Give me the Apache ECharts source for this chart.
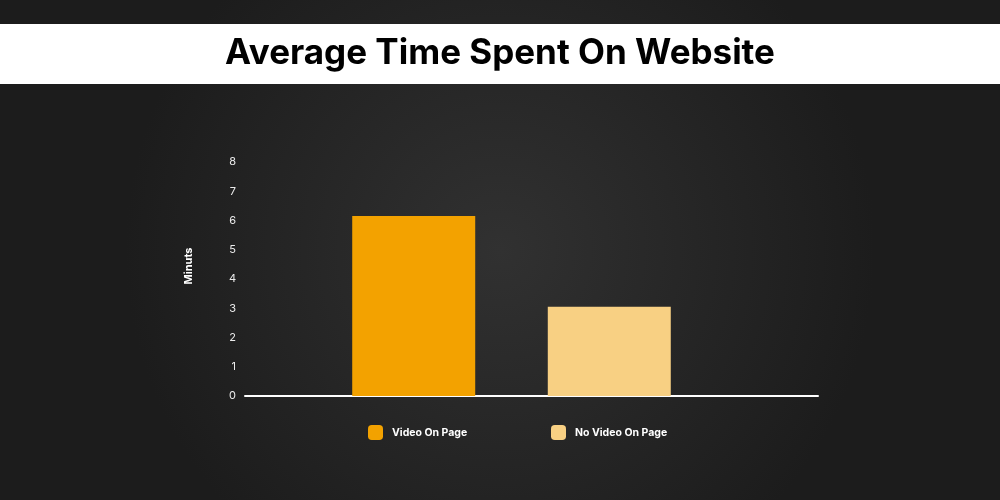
<!DOCTYPE html>
<html><head><meta charset="utf-8">
<script src="https://cdn.jsdelivr.net/npm/echarts@6/dist/echarts.min.js"></script>
<style>html,body{margin:0;padding:0;background:#1e1e1e;}#c{width:1000px;height:500px;}</style>
</head><body><div id="c"></div>
<script>
const titleText = 'Average Time Spent On Website';
const categories = ['Average Time'];
const seriesNames = ['Video On Page', 'No Video On Page'];
const videoOnPage = [6.15];
const noVideoOnPage = [3.05];
const yTicks = [0, 1, 2, 3, 4, 5, 6, 7, 8];
const yAxisTitle = 'Minuts';
const colors = ['#F3A200', '#F8D083'];

const chart = echarts.init(document.getElementById('c'));
chart.setOption({
  backgroundColor: {
    type: 'radial', x: 0.5, y: 0.5, r: 0.75,
    colorStops: [{offset: 0, color: '#313131'}, {offset: 1, color: '#1c1c1c'}]
  },
  animation: false,
  graphic: [
    {type: 'rect', left: 0, top: 24, shape: {width: 1000, height: 60}, style: {fill: '#ffffff'}, z: 0},
    {type: 'text', x: 189, y: 266, rotation: Math.PI / 2,
     style: {text: yAxisTitle, fill: '#ffffff', font: 'bold 11px Inter', align: 'center', verticalAlign: 'middle'}}
  ],
  title: {
    text: titleText, left: 'center', top: 31,
    textStyle: {color: '#000', fontFamily: 'Inter', fontWeight: 'bold', fontSize: 35}
  },
  legend: [
    {data: [seriesNames[0]], left: 368, top: 425, padding: 0, itemWidth: 15, itemHeight: 15, icon: 'roundRect',
     textStyle: {color: '#fff', fontFamily: 'Inter', fontWeight: 'bold', fontSize: 10.5, padding: [0, 0, 0, 4]}},
    {data: [seriesNames[1]], left: 551, top: 425, padding: 0, itemWidth: 15, itemHeight: 15, icon: 'roundRect',
     textStyle: {color: '#fff', fontFamily: 'Inter', fontWeight: 'bold', fontSize: 10.5, padding: [0, 0, 0, 4]}}
  ],
  grid: [
    {left: 245, right: 222, top: 162, bottom: 104},
    {left: 245, right: 182, top: 162, bottom: 104}
  ],
  xAxis: [
    {type: 'category', data: categories, gridIndex: 0, axisLine: {show: false}, axisTick: {show: false}, axisLabel: {show: false}},
    {type: 'category', data: categories, gridIndex: 1, axisLine: {show: true, lineStyle: {color: '#ffffff', width: 2}}, axisTick: {show: false}, axisLabel: {show: false}}
  ],
  yAxis: [
    {type: 'value', gridIndex: 0, min: 0, max: 8, interval: 1,
     axisLine: {show: false}, axisTick: {show: false}, splitLine: {show: false},
     axisLabel: {color: '#ececec', fontFamily: 'Inter', fontSize: 11, margin: 9,
       formatter: v => yTicks.includes(v) ? String(v) : ''}},
    {type: 'value', gridIndex: 1, min: 0, max: 8, interval: 1, show: false}
  ],
  series: [
    {name: seriesNames[0], type: 'bar', data: videoOnPage, barWidth: 123, barGap: '59%', itemStyle: {color: colors[0]}},
    {name: seriesNames[1], type: 'bar', data: noVideoOnPage, barWidth: 123, barGap: '59%', itemStyle: {color: colors[1]}}
  ]
});
</script></body></html>
